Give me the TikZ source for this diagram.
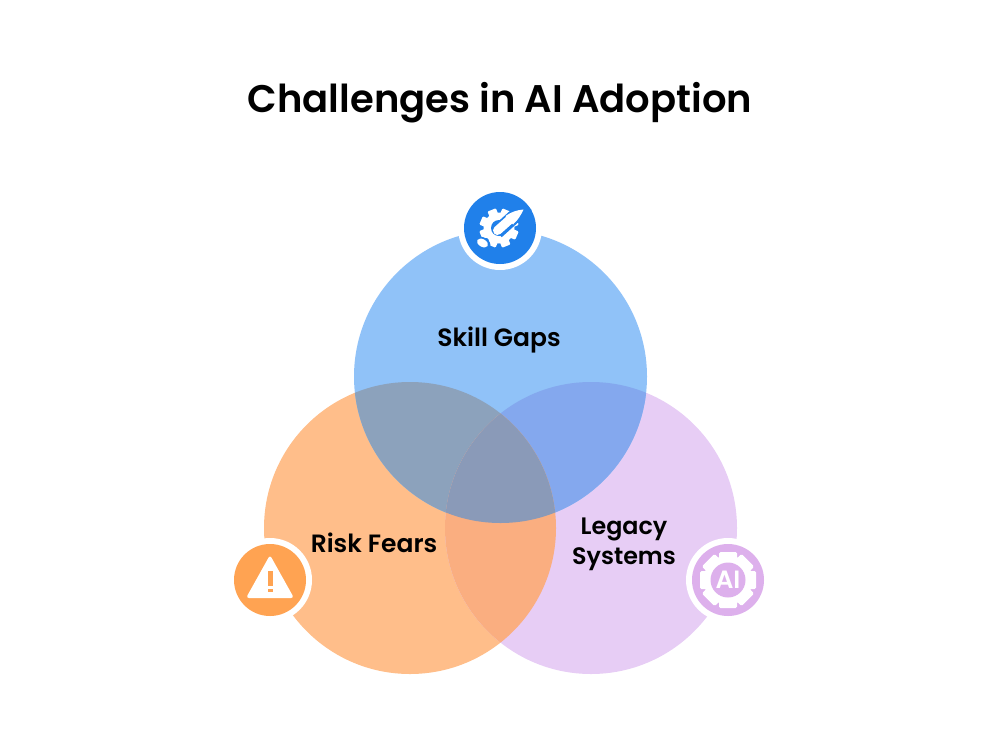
\documentclass[tikz,border=0pt]{standalone}
\usepackage{fontspec}
\setmainfont[BoldFont={Poppins SemiBold}]{Poppins}
\usetikzlibrary{shapes.geometric}
\definecolor{blueC}{HTML}{90C2F8}
\definecolor{orangeC}{HTML}{FFBE8A}
\definecolor{purpleC}{HTML}{E7CDF5}
\definecolor{boC}{HTML}{8CA2BC}
\definecolor{bpC}{HTML}{84A8EE}
\definecolor{opC}{HTML}{FAAE80}
\definecolor{allC}{HTML}{8A9AB8}
\definecolor{blueI}{HTML}{2080EA}
\definecolor{orangeI}{HTML}{FFA352}
\definecolor{purpleI}{HTML}{DDB0EC}
\tikzset{
  x=1pt,y=-1pt,
  venn/.style={circle,minimum size=292pt,inner sep=0pt,outer sep=0pt},
  ring/.style={circle,fill=white,minimum size=84pt,inner sep=0pt},
  badge/.style={circle,minimum size=72pt,inner sep=0pt},
  lab/.style={font=\fontsize{25}{30}\selectfont\bfseries,text=black,align=center},
}
\begin{document}
\begin{tikzpicture}
\useasboundingbox (0,0) rectangle (1000,750);
\node[venn,fill=orangeC] (risk) at (410,528) {};
\node[venn,fill=purpleC] (legacy) at (591,528) {};
\node[venn,fill=blueC,minimum size=293pt] (skill) at (500.5,376.5) {};
\begin{scope}\clip (500.5,376.5) circle[radius=146.5];\fill[boC] (410,528) circle[radius=146];\end{scope}
\begin{scope}\clip (500.5,376.5) circle[radius=146.5];\fill[bpC] (591,528) circle[radius=146];\end{scope}
\begin{scope}\clip (410,528) circle[radius=146];\fill[opC] (591,528) circle[radius=146];\end{scope}
\begin{scope}\clip (500.5,376.5) circle[radius=146.5];\clip (410,528) circle[radius=146];\fill[allC] (591,528) circle[radius=146];\end{scope}
\node[font=\fontsize{38.5}{44}\selectfont\bfseries,text=black] (title) at (500,102.5) {Challenges in AI Adoption};
\node[lab] (t1) at (499,340) {Skill Gaps};
\node[lab] (t2) at (374,543) {Risk Fears};
\node[lab,font=\fontsize{23.8}{30}\selectfont\bfseries] (t3) at (624,544) {Legacy\\Systems};
\node[ring] (r1) at (500,228) {};
\node[ring] (r2) at (270,580) {};
\node[ring] (r3) at (728,580) {};
\node[badge,fill=blueI] (b1) at (500,228) {};
\node[badge,fill=orangeI] (b2) at (270,580) {};
\node[badge,fill=purpleI] (b3) at (728,580) {};
% blue icon: gear, rocket and exhaust
\foreach \a in {0,45,...,315}{\fill[white,rounded corners=1pt,rotate around={\a+22:(499,228)}] (494.5,208.5) rectangle (503.5,218);}
\fill[white] (499,228) circle[radius=15.5];
\fill[blueI] (499,228) circle[radius=8];
\draw[blueI,line width=14pt,line cap=butt] (497,232) -- (527,205);
\fill[blueI,rotate around={-30:(483,243)}] (483,243) ellipse[x radius=8,y radius=5.5];
\draw[white,line width=9pt,line cap=round] (497.5,230.5) -- (511,218.5);
\fill[white] (523.5,209.5) .. controls (517,210) and (511,212) .. (505.5,216) -- (513,224.5) .. controls (518,220) and (521,215) .. (523.5,209.5) -- cycle;
\fill[white,rotate around={-30:(482.5,243)}] (482.5,243) ellipse[x radius=6,y radius=3.8];
% warning
\fill[white,rounded corners=3pt] (270,555) -- (294,598) -- (246,598) -- cycle;
\fill[orangeI] (268,571) rectangle (272.5,586);
\fill[orangeI] (268,588.5) rectangle (272.5,592);
% AI gear
\foreach \a in {0,45,...,315}{\fill[white,rounded corners=1.5pt,rotate around={\a:(728,580)}] (719,552) rectangle (737,562);}
\fill[white] (728,580) circle[radius=24.5];
\fill[purpleI] (728,580) circle[radius=17.5];
\node[font=\fontsize{25}{26}\selectfont\bfseries,text=white,inner sep=0pt] (ai) at (728,580) {AI};
\end{tikzpicture}
\end{document}
